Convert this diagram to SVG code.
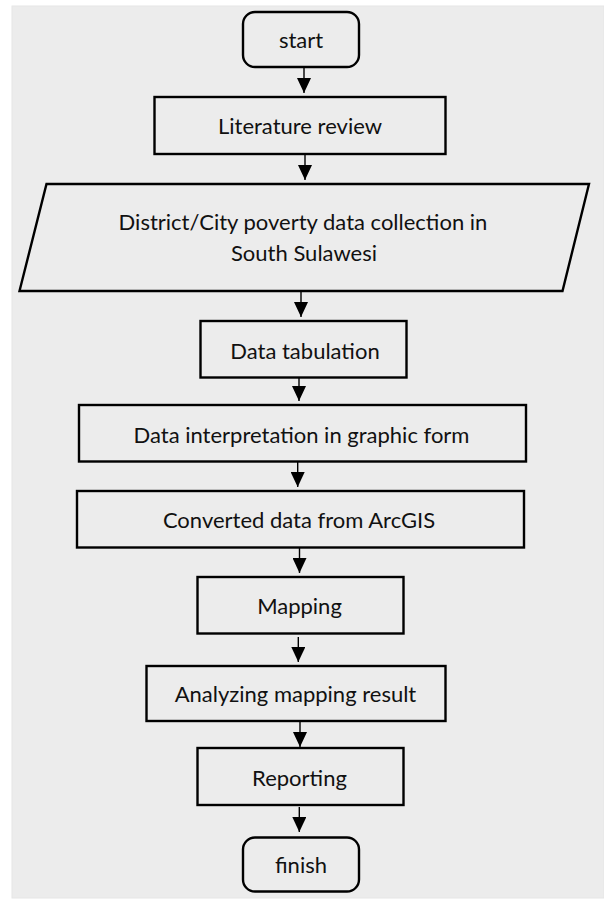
<svg xmlns="http://www.w3.org/2000/svg" width="604" height="899" viewBox="0 0 604 899">
<defs>
<style>
.bx{fill:none;stroke:#000;stroke-width:2.4}
.t{font-family:Lato,"Liberation Sans",sans-serif;font-size:22px;fill:#111;text-anchor:middle}
.c{stroke:#000;stroke-width:1.4;fill:none}
</style>
<marker id="ah" viewBox="0 0 15 14" refX="15" refY="7" markerWidth="15" markerHeight="14" markerUnits="userSpaceOnUse" orient="auto">
<path d="M0,0 L15,7 L0,14 z" fill="#000"/>
</marker>
</defs>
<rect x="0" y="0" width="604" height="899" fill="#ffffff"/>
<rect x="12" y="6" width="592" height="892" fill="#ececec" stroke="#e6e6e6" stroke-width="1"/>
<g id="start"><rect class="bx" x="243" y="12" width="116" height="55" rx="12"/><text class="t" x="301" y="48">start</text></g>
<g id="literature"><rect class="bx" x="154.5" y="97" width="291" height="57"/><text class="t" x="300" y="133.5">Literature review</text></g>
<g id="collection"><polygon class="bx" points="46.5,184 589,184 562.5,291 19.5,291"/><text class="t" x="303" y="230">District/City poverty data collection in</text><text class="t" x="304" y="260.5">South Sulawesi</text></g>
<g id="tabulation"><rect class="bx" x="200.5" y="321" width="206" height="56.5"/><text class="t" x="305" y="358.5">Data tabulation</text></g>
<g id="interpretation"><rect class="bx" x="79" y="405" width="447" height="56.5"/><text class="t" x="301.5" y="443">Data interpretation in graphic form</text></g>
<g id="converted"><rect class="bx" x="77" y="491" width="447" height="56.5"/><text class="t" x="299" y="528">Converted data from ArcGIS</text></g>
<g id="mapping"><rect class="bx" x="197.5" y="577" width="206" height="56.5"/><text class="t" x="299.5" y="614">Mapping</text></g>
<g id="analyzing"><rect class="bx" x="146.5" y="666" width="299" height="55"/><text class="t" x="295.5" y="701.5">Analyzing mapping result</text></g>
<g id="reporting"><rect class="bx" x="197.5" y="748" width="206" height="57"/><text class="t" x="299.5" y="786">Reporting</text></g>
<g id="finish"><rect class="bx" x="243" y="837.5" width="116" height="54" rx="12"/><text class="t" x="301" y="873">finish</text></g>
<g id="connectors">
<line class="c" x1="304" y1="67" x2="304" y2="93" marker-end="url(#ah)"/>
<line class="c" x1="305" y1="155" x2="305" y2="180" marker-end="url(#ah)"/>
<line class="c" x1="301" y1="292" x2="301" y2="317" marker-end="url(#ah)"/>
<line class="c" x1="299" y1="378" x2="299" y2="401" marker-end="url(#ah)"/>
<line class="c" x1="297.7" y1="462" x2="297.7" y2="487" marker-end="url(#ah)"/>
<line class="c" x1="299.5" y1="548" x2="299.5" y2="573" marker-end="url(#ah)"/>
<line class="c" x1="298.3" y1="637" x2="298.3" y2="662" marker-end="url(#ah)"/>
<line class="c" x1="300" y1="721.5" x2="300" y2="747" marker-end="url(#ah)"/>
<line class="c" x1="299.3" y1="807" x2="299.3" y2="832" marker-end="url(#ah)"/>
</g>
</svg>
